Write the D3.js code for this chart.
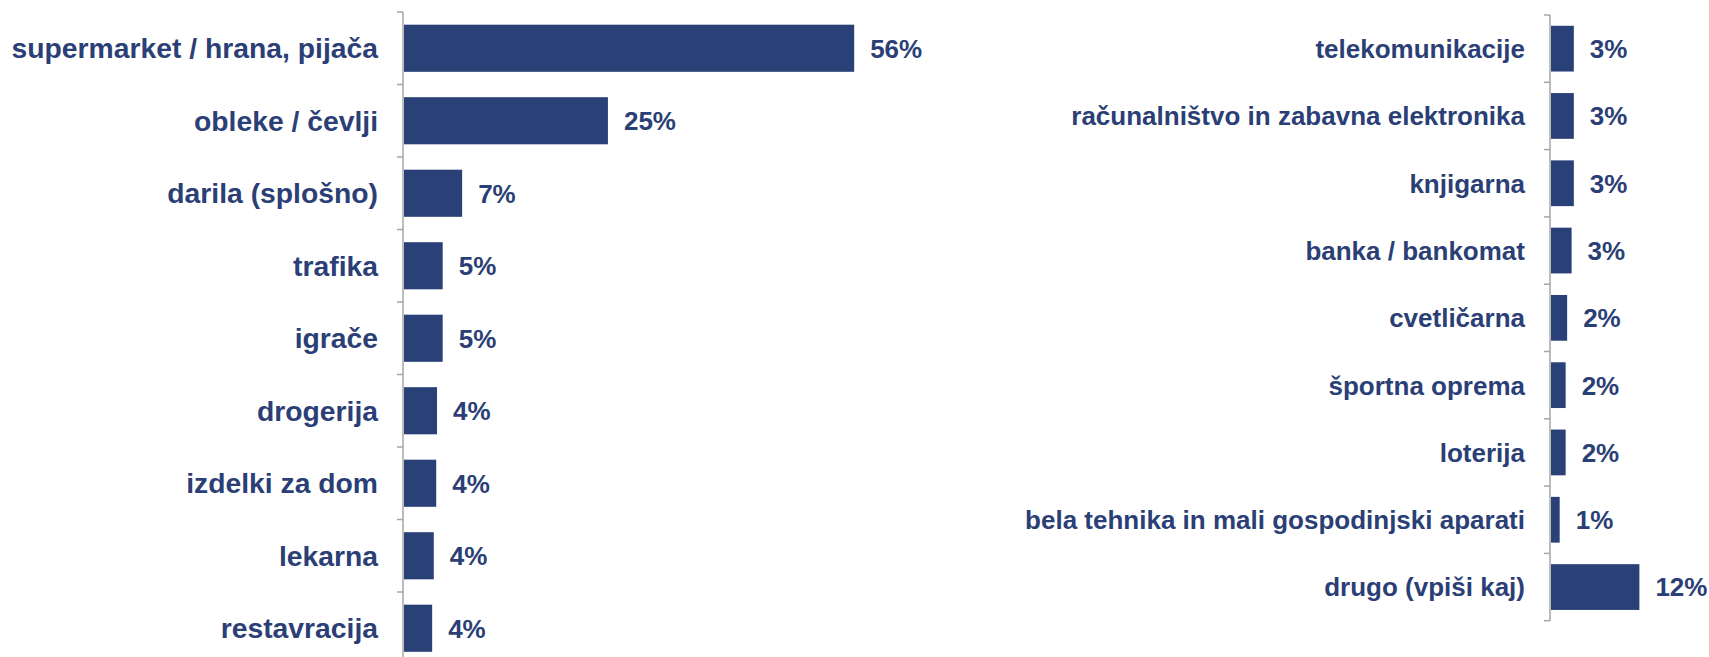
<!DOCTYPE html>
<html>
<head>
<meta charset="utf-8">
<script src="https://cdn.jsdelivr.net/npm/d3@7"></script>
<style>
  body { margin: 0; background: #fff; }
  text { font-family: "Liberation Sans", Arial, sans-serif; font-weight: bold; fill: #2b3f76; }
</style>
</head>
<body>
<div id="chart"></div>
<script>
const leftCats = ["supermarket / hrana, pijača", "obleke / čevlji", "darila (splošno)", "trafika", "igrače", "drogerija", "izdelki za dom", "lekarna", "restavracija"];
const leftValues = [55.7, 25.3, 7.3, 4.9, 4.9, 4.2, 4.1, 3.8, 3.6];

const rightCats = ["telekomunikacije", "računalništvo in zabavna elektronika", "knjigarna", "banka / bankomat", "cvetličarna", "športna oprema", "loterija", "bela tehnika in mali gospodinjski aparati", "drugo (vpiši kaj)"];
const rightValues = [3.2, 3.2, 3.2, 2.9, 2.3, 2.1, 2.1, 1.3, 12.0];

const width = 1709;
const height = 657;
const barColor = "#2a4178";
const axisColor = "#a6a6a6";

const svg = d3.select("#chart")
    .append("svg")
    .attr("width", width)
    .attr("height", height);

function drawPanel(cats, values, opts) {
    const x = d3.scaleLinear()
        .domain([0, opts.max])
        .range([opts.x0, opts.x0 + opts.pxPerUnit * opts.max]);

    const y = d3.scaleBand()
        .domain(cats)
        .range([opts.y0, opts.y0 + opts.step * cats.length])
        .paddingInner(opts.pad)
        .paddingOuter(opts.pad / 2);

    const g = svg.append("g");

    // axis line + ticks between categories
    const bounds = cats.map(c => y(c) - y.step() * opts.pad / 2);
    bounds.push(y.range()[1]);
    g.append("line")
        .attr("x1", x(0)).attr("x2", x(0))
        .attr("y1", bounds[0]).attr("y2", bounds[bounds.length - 1])
        .attr("stroke", axisColor).attr("stroke-width", 1.5);
    g.selectAll(".tick")
        .data(bounds)
        .enter()
        .append("line")
        .attr("x1", x(0) - 6).attr("x2", x(0))
        .attr("y1", d => d).attr("y2", d => d)
        .attr("stroke", axisColor).attr("stroke-width", 1.5);

    g.selectAll("rect")
        .data(cats)
        .enter()
        .append("rect")
        .attr("x", x(0) + 1)
        .attr("y", d => y(d))
        .attr("width", (d, i) => x(values[i]) - x(0) - 1)
        .attr("height", y.bandwidth())
        .attr("fill", barColor);

    g.selectAll(".cat")
        .data(cats)
        .enter()
        .append("text")
        .attr("x", x(0) - 25)
        .attr("y", d => y(d) + y.bandwidth() / 2)
        .attr("dy", "0.36em")
        .attr("text-anchor", "end")
        .style("font-size", opts.catSize)
        .text(d => d);

    g.selectAll(".val")
        .data(cats)
        .enter()
        .append("text")
        .attr("x", (d, i) => x(values[i]) + 16)
        .attr("y", d => y(d) + y.bandwidth() / 2)
        .attr("dy", "0.36em")
        .style("font-size", "26px")
        .text((d, i) => Math.round(values[i]) + "%");
}

drawPanel(leftCats, leftValues, { x0: 403, max: 60, pxPerUnit: 8.1, y0: 12, step: 72.5, pad: 0.35, catSize: "28.3px" });
drawPanel(rightCats, rightValues, { x0: 1550, max: 15, pxPerUnit: 7.45, y0: 15, step: 67.3, pad: 0.32, catSize: "26px" });
</script>
</body>
</html>
